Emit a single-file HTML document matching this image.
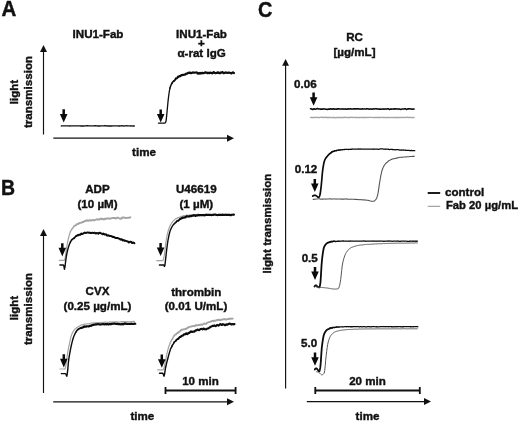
<!DOCTYPE html>
<html><head><meta charset="utf-8">
<style>
html,body{margin:0;padding:0;background:#fff;}
svg{display:block;will-change:transform;filter:grayscale(1);}
text{font-family:"Liberation Sans",sans-serif;font-weight:bold;fill:#111;}
.t{font-size:11.6px;stroke:#111;stroke-width:0.4px;}
.p{font-size:20.5px;stroke:#111;stroke-width:0.4px;}
.ax{stroke:#111;stroke-width:1.15;fill:none;}
.bk{stroke:#0c0c0c;stroke-width:1.7;fill:none;stroke-linejoin:round;stroke-linecap:round;}
.gy{stroke:#a4a4a4;stroke-width:1.6;fill:none;stroke-linejoin:round;stroke-linecap:round;}
.bk1{stroke:#111;stroke-width:1.4;fill:none;stroke-linejoin:round;}
.bkc{stroke:#0c0c0c;stroke-width:1.45;fill:none;stroke-linejoin:round;stroke-linecap:round;}
.gy1{stroke:#555;stroke-width:1.1;fill:none;stroke-linejoin:round;}
</style></head><body>
<svg width="520" height="421" viewBox="0 0 520 421">
<rect width="520" height="421" fill="#fff"/>

<text class="p" transform="translate(1.4,16.3) scale(1,1.05)">A</text>
<text class="p" transform="translate(1.0,195.3) scale(0.95,1.035)">B</text>
<text class="p" transform="translate(257.9,17.2) scale(0.97,1.065)">C</text>
<text class="t" x="98" y="38.3" text-anchor="middle">INU1-Fab</text>
<text class="t" x="201.5" y="37.8" text-anchor="middle">INU1-Fab</text>
<text class="t" x="201.5" y="46.9" text-anchor="middle">+</text>
<text class="t" x="201.6" y="57" text-anchor="middle">α-rat IgG</text>
<path class="ax" d="M43.5,134.5 V50"/><path d="M43.5,45 l-3.5,7 h7 z" fill="#111"/>
<path class="ax" d="M53.3,138.15 H228"/><path d="M234,138.2 l-7,-3.5 v7 z" fill="#111"/>
<text class="t" transform="translate(17.8,92) rotate(-90)" text-anchor="middle">light</text>
<text class="t" transform="translate(31.5,92) rotate(-90)" text-anchor="middle">transmission</text>
<text class="t" x="144" y="156" text-anchor="middle">time</text>
<path transform="translate(63.7,109.3)" d="M-1.25,0 h2.5 v4.6 h2.55 L0,13.2 L-3.8,4.6 h2.55 z" fill="#0a0a0a"/>
<path class="bk1" d="M60.80,125.96 L61.80,125.92 L62.80,125.90 L63.80,125.90 L64.80,125.88 L65.80,125.88 L66.80,125.86 L67.80,125.85 L68.80,125.92 L69.80,125.93 L70.80,125.88 L71.80,125.89 L72.80,125.91 L73.80,125.89 L74.80,125.86 L75.80,125.85 L76.80,125.90 L77.80,125.92 L78.80,125.88 L79.80,125.88 L80.80,125.94 L81.80,125.93 L82.80,125.93 L83.80,125.97 L84.80,125.91 L85.80,125.83 L86.80,125.81 L87.80,125.82 L88.80,125.89 L89.80,125.89 L90.80,125.88 L91.80,125.90 L92.80,125.87 L93.80,125.85 L94.80,125.81 L95.80,125.81 L96.80,125.87 L97.80,125.97 L98.80,125.99 L99.80,125.94 L100.80,125.92 L101.80,125.92 L102.80,125.90 L103.80,125.85 L104.80,125.78 L105.80,125.80 L106.80,125.92 L107.80,126.00 L108.80,125.95 L109.80,125.92 L110.80,125.97 L111.80,125.95 L112.80,125.91 L113.80,125.91 L114.80,125.89 L115.80,125.86 L116.80,125.85 L117.80,125.89 L118.80,125.93 L119.80,125.94 L120.80,125.87 L121.80,125.81 L122.80,125.89 L123.80,125.96 L124.80,125.90 L125.80,125.83 L126.80,125.81 L127.80,125.83 L128.80,125.84 L129.80,125.88 L130.80,125.93 L131.80,125.92 L132.80,125.93 L133.80,125.99 L134.80,125.99"/>
<path transform="translate(160.7,109.4)" d="M-1.25,0 h2.5 v4.6 h2.55 L0,13.2 L-3.8,4.6 h2.55 z" fill="#0a0a0a"/>
<path class="bk" style="stroke-width:1.3" d="M158.50,123.20 L159.00,123.20 L159.50,123.20 L160.00,123.20 L160.50,123.20 L161.00,123.20 L161.50,123.20 L162.00,123.20 L162.50,123.20 L163.00,123.20 L163.50,123.20 L164.00,123.20 L164.50,123.20 L165.00,123.00 L165.50,122.46 L166.00,121.32 L166.50,117.33 L167.00,111.98 L167.50,107.00 L168.00,101.67 L168.50,97.22 L169.00,93.49 L169.50,90.33 L170.00,87.99"/>
<path class="bk" style="stroke-width:1.48" d="M170.00,87.99 L170.50,86.38 L171.00,85.10 L171.50,84.16 L172.00,83.24"/>
<path class="bk" style="stroke-width:1.66" d="M172.00,83.24 L172.50,82.31 L173.00,81.69 L173.50,81.25 L174.00,80.88"/>
<path class="bk" style="stroke-width:1.84" d="M174.00,80.88 L174.50,80.49 L175.00,79.97 L175.50,79.07 L176.00,78.42"/>
<path class="bk" style="stroke-width:2.02" d="M176.00,78.42 L176.50,78.35 L177.00,78.24 L177.50,77.58 L178.00,76.84"/>
<path class="bk" style="stroke-width:2.2" d="M178.00,76.84 L178.50,76.68 L179.00,76.50 L179.50,76.03 L180.00,76.01 L180.50,76.15 L181.00,75.54 L181.50,75.07 L182.00,75.19 L182.50,75.04 L183.00,74.86 L183.50,74.90 L184.00,74.78 L184.50,74.67 L185.00,74.63 L185.50,74.25 L186.00,73.79 L186.50,73.61 L187.00,73.62 L187.50,73.53 L188.00,73.03 L188.50,72.81 L189.00,72.99 L189.50,72.68 L190.00,72.56 L190.50,72.97 L191.00,73.14 L191.50,73.14 L192.00,72.88 L192.50,72.48 L193.00,72.44 L193.50,72.68 L194.00,72.77 L194.50,72.70 L195.00,72.58 L195.50,72.50 L196.00,72.49 L196.50,72.41 L197.00,72.76 L197.50,73.36 L198.00,73.71 L198.50,73.44 L199.00,72.86 L199.50,73.14 L200.00,73.61 L200.50,73.30 L201.00,72.86 L201.50,73.21 L202.00,73.35 L202.50,72.81 L203.00,73.01 L203.50,73.23 L204.00,72.96 L204.50,72.81 L205.00,72.52 L205.50,72.33 L206.00,72.53 L206.50,72.81 L207.00,73.04 L207.50,73.03 L208.00,72.71 L208.50,72.84 L209.00,73.25 L209.50,72.99 L210.00,72.64 L210.50,72.79 L211.00,72.88 L211.50,72.96 L212.00,73.21 L212.50,73.31 L213.00,72.79 L213.50,72.06 L214.00,72.23 L214.50,72.82 L215.00,73.06 L215.50,73.21 L216.00,72.99 L216.50,72.82 L217.00,72.93 L217.50,72.42 L218.00,72.38 L218.50,72.86 L219.00,72.65 L219.50,72.88 L220.00,73.25 L220.50,72.75 L221.00,72.47 L221.50,72.65 L222.00,72.31 L222.50,72.10 L223.00,72.61 L223.50,73.06 L224.00,73.17 L224.50,73.05 L225.00,72.77 L225.50,72.50 L226.00,72.37 L226.50,72.62 L227.00,72.90 L227.50,72.88 L228.00,72.82 L228.50,72.60 L229.00,72.53 L229.50,72.69 L230.00,72.84 L230.50,72.99 L231.00,73.23 L231.50,73.35 L232.00,72.97 L232.50,72.53 L233.00,72.43 L233.50,72.75 L234.00,73.02"/>
<text class="t" x="97.5" y="193.1" text-anchor="middle">ADP</text>
<text class="t" x="97.5" y="207.7" text-anchor="middle">(10 µM)</text>
<text class="t" x="196.3" y="193.2" text-anchor="middle">U46619</text>
<text class="t" x="196.3" y="207.7" text-anchor="middle">(1 µM)</text>
<text class="t" x="97.5" y="295.3" text-anchor="middle">CVX</text>
<text class="t" x="97.5" y="309.8" text-anchor="middle">(0.25 µg/mL)</text>
<text class="t" x="196.3" y="295.5" text-anchor="middle">thrombin</text>
<text class="t" x="196" y="309.8" text-anchor="middle">(0.01 U/mL)</text>
<path class="ax" d="M43.5,393 V234"/><path d="M43.5,229 l-3.5,7 h7 z" fill="#111"/>
<path class="ax" d="M53.2,401.8 H228"/><path d="M234,401.8 l-7,-3.5 v7 z" fill="#111"/>
<text class="t" transform="translate(17.8,308) rotate(-90)" text-anchor="middle">light</text>
<text class="t" transform="translate(31.5,309) rotate(-90)" text-anchor="middle">transmission</text>
<text class="t" x="142.4" y="419.7" text-anchor="middle">time</text>
<path d="M165.3,390.4 H235.7" stroke="#111" stroke-width="2" fill="none"/>
<path d="M165.5,387 V394 M235.6,387 V394" stroke="#111" stroke-width="1.8" fill="none"/>
<text class="t" x="200.5" y="384.5" text-anchor="middle">10 min</text>
<path class="gy" style="stroke-width:1.2" d="M59.40,260.40 L59.90,260.40 L60.40,260.40 L60.90,260.40 L61.40,260.40 L61.90,260.40 L62.40,260.40 L62.90,260.40 L63.40,260.40 L63.90,260.40 L64.40,260.40 L64.90,259.24 L65.40,256.41 L65.90,252.62 L66.40,249.11 L66.90,246.00 L67.40,243.14 L67.90,240.64 L68.40,238.49 L68.90,236.50 L69.40,234.66 L69.90,233.00 L70.40,231.66"/>
<path class="gy" style="stroke-width:1.34" d="M70.40,231.66 L70.90,230.70 L71.40,229.84 L71.90,229.06 L72.40,228.38"/>
<path class="gy" style="stroke-width:1.48" d="M72.40,228.38 L72.90,227.79 L73.40,227.20 L73.90,226.38 L74.40,225.73"/>
<path class="gy" style="stroke-width:1.62" d="M74.40,225.73 L74.90,225.57 L75.40,225.56 L75.90,225.39 L76.40,224.73"/>
<path class="gy" style="stroke-width:1.76" d="M76.40,224.73 L76.90,224.03 L77.40,224.09 L77.90,224.18 L78.40,223.67"/>
<path class="gy" style="stroke-width:1.9" d="M78.40,223.67 L78.90,223.24 L79.40,223.07 L79.90,222.91 L80.40,222.83 L80.90,222.81 L81.40,222.79 L81.90,222.44 L82.40,222.04 L82.90,222.11 L83.40,222.02 L83.90,221.58 L84.40,221.07 L84.90,220.90 L85.40,221.14 L85.90,220.87 L86.40,220.25 L86.90,220.23 L87.40,220.66 L87.90,220.89 L88.40,220.78 L88.90,220.54 L89.40,220.12 L89.90,220.06 L90.40,220.44 L90.90,220.48 L91.40,220.40 L91.90,220.31 L92.40,219.93 L92.90,219.90 L93.40,220.35 L93.90,220.44 L94.40,220.24 L94.90,220.10 L95.40,219.81 L95.90,219.65 L96.40,219.42 L96.90,219.19 L97.40,219.49 L97.90,219.70 L98.40,219.48 L98.90,219.50 L99.40,219.49 L99.90,218.96 L100.40,218.64 L100.90,218.70 L101.40,218.93 L101.90,219.30 L102.40,219.18 L102.90,218.76 L103.40,219.05 L103.90,219.45 L104.40,218.98 L104.90,218.61 L105.40,218.85 L105.90,218.97 L106.40,218.74 L106.90,218.35 L107.40,218.33 L107.90,218.61 L108.40,218.44 L108.90,218.29 L109.40,218.70 L109.90,218.79 L110.40,218.47 L110.90,218.38 L111.40,218.36 L111.90,218.10 L112.40,218.01 L112.90,218.10 L113.40,218.07 L113.90,218.06 L114.40,217.98 L114.90,218.06 L115.40,218.43 L115.90,218.52 L116.40,218.01 L116.90,217.66 L117.40,217.73 L117.90,217.75 L118.40,217.93 L118.90,218.26 L119.40,218.55 L119.90,218.51 L120.40,218.43 L120.90,218.85 L121.40,218.82 L121.90,217.95 L122.40,217.44 L122.90,217.72 L123.40,217.72 L123.90,217.44 L124.40,217.68 L124.90,217.81 L125.40,217.80 L125.90,218.10 L126.40,218.16 L126.90,217.92 L127.40,217.80 L127.90,217.64 L128.40,217.59 L128.90,217.83 L129.40,217.89 L129.90,217.48 L130.40,217.20"/>
<path class="bk" style="stroke-width:1.4" d="M59.90,265.00 L60.40,265.00 L60.90,265.00 L61.40,265.00 L61.90,265.00 L62.40,265.00 L62.90,265.00 L63.40,265.00 L63.90,266.14 L64.40,269.25 L64.90,267.41 L65.40,263.27 L65.90,259.36 L66.40,256.13 L66.90,253.44 L67.40,251.07 L67.90,249.06 L68.40,247.33 L68.90,245.74 L69.40,244.31 L69.90,243.11 L70.40,242.12"/>
<path class="bk" style="stroke-width:1.52" d="M70.40,242.12 L70.90,241.18 L71.40,240.29 L71.90,239.64 L72.40,239.31"/>
<path class="bk" style="stroke-width:1.64" d="M72.40,239.31 L72.90,238.90 L73.40,238.55 L73.90,238.43 L74.40,237.90"/>
<path class="bk" style="stroke-width:1.76" d="M74.40,237.90 L74.90,237.28 L75.40,236.71 L75.90,236.15 L76.40,236.01"/>
<path class="bk" style="stroke-width:1.88" d="M76.40,236.01 L76.90,235.66 L77.40,235.27 L77.90,235.31 L78.40,235.12"/>
<path class="bk" style="stroke-width:2.0" d="M78.40,235.12 L78.90,234.85 L79.40,234.74 L79.90,234.86 L80.40,234.69 L80.90,233.91 L81.40,233.50 L81.90,233.81 L82.40,234.00 L82.90,233.66 L83.40,233.48 L83.90,233.20 L84.40,232.65 L84.90,232.60 L85.40,232.84 L85.90,233.00 L86.40,232.82 L86.90,232.62 L87.40,232.57 L87.90,232.52 L88.40,232.64 L88.90,232.67 L89.40,232.59 L89.90,232.75 L90.40,233.00 L90.90,233.01 L91.40,233.03 L91.90,232.91 L92.40,232.73 L92.90,232.90 L93.40,233.02 L93.90,232.89 L94.40,232.70 L94.90,232.79 L95.40,233.36 L95.90,233.54 L96.40,233.14 L96.90,233.03 L97.40,233.19 L97.90,233.40 L98.40,233.62 L98.90,233.27 L99.40,232.66 L99.90,232.74 L100.40,233.14 L100.90,233.33 L101.40,233.39 L101.90,233.61 L102.40,234.27 L102.90,234.25 L103.40,233.57 L103.90,233.82 L104.40,234.44 L104.90,234.52 L105.40,234.37 L105.90,234.24 L106.40,234.59 L106.90,235.30 L107.40,235.64 L107.90,235.43 L108.40,235.30 L108.90,235.53 L109.40,235.81 L109.90,236.06 L110.40,236.09 L110.90,236.08 L111.40,236.15 L111.90,236.31 L112.40,236.88 L112.90,237.08 L113.40,236.85 L113.90,236.92 L114.40,237.19 L114.90,237.71 L115.40,237.95 L115.90,237.94 L116.40,238.09 L116.90,237.99 L117.40,237.90 L117.90,238.11 L118.40,238.38 L118.90,238.62 L119.40,238.78 L119.90,238.98 L120.40,239.46 L120.90,239.68 L121.40,239.34 L121.90,239.33 L122.40,240.04 L122.90,240.44 L123.40,240.15 L123.90,240.05 L124.40,240.67 L124.90,240.94 L125.40,240.66 L125.90,240.90 L126.40,241.09 L126.90,241.18 L127.40,241.39 L127.90,241.45 L128.40,241.93 L128.90,242.43 L129.40,242.25 L129.90,241.82 L130.40,241.63 L130.90,241.70 L131.40,242.24 L131.90,243.00 L132.40,242.99 L132.90,242.60 L133.40,242.58 L133.90,242.84 L134.40,243.26"/>
<path transform="translate(62.3,243.2)" d="M-1.25,0 h2.5 v4.6 h2.55 L0,13.2 L-3.8,4.6 h2.55 z" fill="#0a0a0a"/>
<path class="gy" style="stroke-width:1.2" d="M156.80,260.70 L157.30,260.70 L157.80,260.70 L158.30,260.70 L158.80,260.70 L159.30,260.70 L159.80,260.70 L160.30,260.70 L160.80,260.70 L161.30,260.70 L161.80,260.70 L162.30,260.70 L162.80,260.70 L163.30,259.82 L163.80,258.00 L164.30,255.24 L164.80,251.67 L165.30,247.33 L165.80,243.01 L166.30,239.62 L166.80,236.89 L167.30,234.44 L167.80,232.31 L168.30,230.52 L168.80,229.04 L169.30,227.70 L169.80,226.47 L170.30,225.36 L170.80,224.36 L171.30,223.49 L171.80,222.73 L172.30,222.06 L172.80,221.47 L173.30,220.90 L173.80,220.41 L174.30,220.09 L174.80,219.64 L175.30,219.04 L175.80,218.70 L176.30,218.64 L176.80,218.42 L177.30,218.02 L177.80,217.66 L178.30,217.53 L178.80,217.58 L179.30,217.37 L179.80,217.07 L180.30,216.89 L180.80,216.70 L181.30,216.44 L181.80,216.21 L182.30,216.10 L182.80,216.02 L183.30,215.89 L183.80,215.63 L184.30,215.51 L184.80,215.63 L185.30,215.63 L185.80,215.40 L186.30,215.20 L186.80,215.12 L187.30,215.19 L187.80,215.33 L188.30,215.31 L188.80,215.18 L189.30,214.98 L189.80,214.87 L190.30,215.00 L190.80,215.06 L191.30,214.88 L191.80,214.78 L192.30,214.76 L192.80,214.70 L193.30,214.64 L193.80,214.51 L194.30,214.47 L194.80,214.63 L195.30,214.79 L195.80,214.83 L196.30,214.68 L196.80,214.52 L197.30,214.35 L197.80,214.20 L198.30,214.30 L198.80,214.48 L199.30,214.55 L199.80,214.75 L200.30,214.82 L200.80,214.75 L201.30,214.80 L201.80,214.79 L202.30,214.74 L202.80,214.70 L203.30,214.64 L203.80,214.58 L204.30,214.59 L204.80,214.57 L205.30,214.59 L205.80,214.68 L206.30,214.65 L206.80,214.65 L207.30,214.73 L207.80,214.66 L208.30,214.52 L208.80,214.62 L209.30,214.67 L209.80,214.57 L210.30,214.52 L210.80,214.55 L211.30,214.68 L211.80,214.65 L212.30,214.65 L212.80,214.73 L213.30,214.69 L213.80,214.60 L214.30,214.48 L214.80,214.39 L215.30,214.39 L215.80,214.55 L216.30,214.72 L216.80,214.74 L217.30,214.66 L217.80,214.48 L218.30,214.40 L218.80,214.53 L219.30,214.66 L219.80,214.68 L220.30,214.66 L220.80,214.66 L221.30,214.62 L221.80,214.67 L222.30,214.72 L222.80,214.62 L223.30,214.68 L223.80,214.81 L224.30,214.75 L224.80,214.65 L225.30,214.69 L225.80,214.66 L226.30,214.38 L226.80,214.27 L227.30,214.50 L227.80,214.75 L228.30,214.72 L228.80,214.51 L229.30,214.45 L229.80,214.57 L230.30,214.59 L230.80,214.43 L231.30,214.31 L231.80,214.39 L232.30,214.58 L232.80,214.65 L233.30,214.62 L233.80,214.59"/>
<path class="bk" style="stroke-width:1.4" d="M159.40,265.00 L159.90,265.00 L160.40,265.00 L160.90,265.00 L161.40,265.00 L161.90,265.00 L162.40,265.00 L162.90,265.00 L163.40,265.00 L163.90,265.20 L164.40,266.40 L164.90,265.38 L165.40,261.00 L165.90,256.57 L166.40,252.23 L166.90,248.04 L167.40,244.10 L167.90,240.76 L168.40,238.09 L168.90,235.65 L169.40,233.48 L169.90,231.62 L170.40,230.13 L170.90,228.97 L171.40,227.93 L171.90,226.99 L172.40,226.22 L172.90,225.43 L173.40,224.65 L173.90,224.13 L174.40,223.62"/>
<path class="bk" style="stroke-width:1.56" d="M174.40,223.62 L174.90,223.09 L175.40,222.71 L175.90,222.29 L176.40,221.79"/>
<path class="bk" style="stroke-width:1.72" d="M176.40,221.79 L176.90,221.14 L177.40,220.72 L177.90,220.74 L178.40,220.60"/>
<path class="bk" style="stroke-width:1.88" d="M178.40,220.60 L178.90,220.13 L179.40,219.65 L179.90,219.11 L180.40,218.71"/>
<path class="bk" style="stroke-width:2.04" d="M180.40,218.71 L180.90,218.74 L181.40,218.62 L181.90,218.13 L182.40,217.77"/>
<path class="bk" style="stroke-width:2.2" d="M182.40,217.77 L182.90,217.63 L183.40,217.72 L183.90,217.67 L184.40,217.30 L184.90,217.25 L185.40,217.33 L185.90,217.01 L186.40,216.58 L186.90,216.30 L187.40,216.29 L187.90,216.45 L188.40,216.48 L188.90,216.54 L189.40,216.45 L189.90,216.13 L190.40,216.06 L190.90,216.16 L191.40,216.10 L191.90,215.84 L192.40,215.68 L192.90,215.73 L193.40,215.48 L193.90,215.18 L194.40,215.36 L194.90,215.74 L195.40,215.84 L195.90,215.45 L196.40,215.33 L196.90,215.60 L197.40,215.49 L197.90,215.16 L198.40,214.96 L198.90,215.08 L199.40,215.31 L199.90,215.18 L200.40,214.98 L200.90,215.11 L201.40,215.26 L201.90,215.17 L202.40,215.15 L202.90,215.17 L203.40,215.04 L203.90,214.97 L204.40,215.19 L204.90,215.32 L205.40,215.05 L205.90,214.74 L206.40,214.72 L206.90,214.88 L207.40,214.93 L207.90,214.92 L208.40,214.83 L208.90,214.77 L209.40,214.96 L209.90,215.03 L210.40,214.95 L210.90,215.03 L211.40,215.09 L211.90,214.93 L212.40,214.87 L212.90,214.99 L213.40,214.87 L213.90,214.63 L214.40,214.59 L214.90,214.69 L215.40,214.69 L215.90,214.77 L216.40,214.93 L216.90,215.02 L217.40,215.09 L217.90,215.00 L218.40,214.83 L218.90,214.77 L219.40,214.84 L219.90,214.96 L220.40,214.92 L220.90,214.90 L221.40,215.01 L221.90,214.95 L222.40,214.71 L222.90,214.66 L223.40,214.87 L223.90,214.98 L224.40,214.89 L224.90,214.77 L225.40,214.71 L225.90,214.82 L226.40,214.91 L226.90,214.89 L227.40,214.83 L227.90,214.84 L228.40,214.94 L228.90,214.90 L229.40,214.86 L229.90,215.02 L230.40,215.15 L230.90,215.08 L231.40,214.93 L231.90,214.77 L232.40,214.76 L232.90,214.76 L233.40,214.59 L233.90,214.67"/>
<path transform="translate(160.6,242.9)" d="M-1.25,0 h2.5 v4.6 h2.55 L0,13.2 L-3.8,4.6 h2.55 z" fill="#0a0a0a"/>
<path class="gy" style="stroke-width:1.2" d="M60.00,369.00 L60.50,369.00 L61.00,369.00 L61.50,369.00 L62.00,369.00 L62.50,369.00 L63.00,369.00 L63.50,369.00 L64.00,369.00 L64.50,369.00 L65.00,369.00 L65.50,367.45 L66.00,364.05 L66.50,360.68 L67.00,357.32 L67.50,353.88 L68.00,350.85 L68.50,348.14 L69.00,345.63 L69.50,343.26 L70.00,340.86 L70.50,338.57 L71.00,336.56 L71.50,335.00 L72.00,333.80 L72.50,332.75 L73.00,331.83 L73.50,331.05 L74.00,330.33 L74.50,329.71 L75.00,329.11 L75.50,328.54 L76.00,328.16 L76.50,327.84 L77.00,327.61 L77.50,327.40 L78.00,326.96 L78.50,326.52 L79.00,326.29 L79.50,326.12 L80.00,325.83 L80.50,325.39 L81.00,325.03 L81.50,324.91 L82.00,324.97 L82.50,324.86 L83.00,324.60 L83.50,324.43 L84.00,324.31 L84.50,324.21 L85.00,324.14 L85.50,324.17 L86.00,324.23 L86.50,324.05 L87.00,323.77 L87.50,323.75 L88.00,323.85 L88.50,323.78 L89.00,323.67 L89.50,323.69 L90.00,323.58 L90.50,323.25 L91.00,323.01 L91.50,323.00 L92.00,323.09 L92.50,323.05 L93.00,322.90 L93.50,322.91 L94.00,322.98 L94.50,322.90 L95.00,322.87 L95.50,322.88 L96.00,322.66 L96.50,322.69 L97.00,322.93 L97.50,322.76 L98.00,322.52 L98.50,322.49 L99.00,322.57 L99.50,322.69 L100.00,322.70 L100.50,322.59 L101.00,322.38 L101.50,322.27 L102.00,322.46 L102.50,322.66 L103.00,322.58 L103.50,322.44 L104.00,322.39 L104.50,322.30 L105.00,322.18 L105.50,322.09 L106.00,322.14 L106.50,322.21 L107.00,322.24 L107.50,322.38 L108.00,322.52 L108.50,322.40 L109.00,322.13 L109.50,321.97 L110.00,321.92 L110.50,321.93 L111.00,322.04 L111.50,322.11 L112.00,322.09 L112.50,322.06 L113.00,322.02 L113.50,321.93 L114.00,321.97 L114.50,322.18 L115.00,322.11 L115.50,321.82 L116.00,321.71 L116.50,321.77 L117.00,321.92 L117.50,322.07 L118.00,322.11 L118.50,322.08 L119.00,322.08 L119.50,322.04 L120.00,321.97 L120.50,321.86 L121.00,321.67 L121.50,321.52 L122.00,321.72 L122.50,321.90 L123.00,321.71 L123.50,321.65 L124.00,321.77 L124.50,321.71 L125.00,321.70 L125.50,321.84 L126.00,321.85 L126.50,321.72 L127.00,321.62 L127.50,321.65 L128.00,321.72 L128.50,321.77 L129.00,321.83 L129.50,321.78 L130.00,321.69 L130.50,321.58 L131.00,321.49 L131.50,321.59 L132.00,321.63 L132.50,321.47 L133.00,321.40 L133.50,321.39 L134.00,321.38 L134.50,321.47"/>
<path class="bk" style="stroke-width:1.4" d="M61.30,373.60 L61.80,373.60 L62.30,373.60 L62.80,373.60 L63.30,373.60 L63.80,373.60 L64.30,373.60 L64.80,373.60 L65.30,373.60 L65.80,373.80 L66.30,375.28 L66.80,376.30 L67.30,373.63 L67.80,369.07 L68.30,363.22 L68.80,359.05 L69.30,355.87 L69.80,353.09 L70.30,350.39 L70.80,347.84 L71.30,345.49 L71.80,343.37 L72.30,341.34 L72.80,339.45 L73.30,337.82 L73.80,336.50 L74.30,335.27 L74.80,334.16 L75.30,333.15 L75.80,332.28 L76.30,331.51"/>
<path class="bk" style="stroke-width:1.56" d="M76.30,331.51 L76.80,330.66 L77.30,330.10 L77.80,329.74 L78.30,329.25"/>
<path class="bk" style="stroke-width:1.72" d="M78.30,329.25 L78.80,328.90 L79.30,328.75 L79.80,328.46 L80.30,328.08"/>
<path class="bk" style="stroke-width:1.88" d="M80.30,328.08 L80.80,327.97 L81.30,328.05 L81.80,327.79 L82.30,327.41"/>
<path class="bk" style="stroke-width:2.04" d="M82.30,327.41 L82.80,327.47 L83.30,327.35 L83.80,326.82 L84.30,326.62"/>
<path class="bk" style="stroke-width:2.2" d="M84.30,326.62 L84.80,326.69 L85.30,326.63 L85.80,326.59 L86.30,326.54 L86.80,326.33 L87.30,326.23 L87.80,326.25 L88.30,326.30 L88.80,326.36 L89.30,326.19 L89.80,325.81 L90.30,325.72 L90.80,325.85 L91.30,325.67 L91.80,325.28 L92.30,325.07 L92.80,325.04 L93.30,324.89 L93.80,324.67 L94.30,324.56 L94.80,324.61 L95.30,324.59 L95.80,324.39 L96.30,324.40 L96.80,324.45 L97.30,324.29 L97.80,324.20 L98.30,324.20 L98.80,324.27 L99.30,324.39 L99.80,324.41 L100.30,324.55 L100.80,324.52 L101.30,324.27 L101.80,324.24 L102.30,324.18 L102.80,324.08 L103.30,324.14 L103.80,324.28 L104.30,324.44 L104.80,324.38 L105.30,324.11 L105.80,324.11 L106.30,324.35 L106.80,324.22 L107.30,323.98 L107.80,324.16 L108.30,324.35 L108.80,324.34 L109.30,324.12 L109.80,323.95 L110.30,324.14 L110.80,324.29 L111.30,324.00 L111.80,323.76 L112.30,323.86 L112.80,323.78 L113.30,323.67 L113.80,323.63 L114.30,323.54 L114.80,323.60 L115.30,323.71 L115.80,323.82 L116.30,323.91 L116.80,323.81 L117.30,323.70 L117.80,323.90 L118.30,324.18 L118.80,324.19 L119.30,324.09 L119.80,324.12 L120.30,324.23 L120.80,324.35 L121.30,324.27 L121.80,323.97 L122.30,323.95 L122.80,324.23 L123.30,324.38 L123.80,324.06 L124.30,323.60 L124.80,323.39 L125.30,323.38 L125.80,323.72 L126.30,323.92 L126.80,323.85 L127.30,323.93 L127.80,324.01 L128.30,323.97 L128.80,324.01 L129.30,324.02 L129.80,323.96 L130.30,323.93 L130.80,323.78 L131.30,323.70 L131.80,323.89 L132.30,323.97 L132.80,323.90 L133.30,323.98 L133.80,323.90 L134.30,323.66 L134.80,323.64 L135.30,323.72"/>
<path transform="translate(63.8,354.2)" d="M-1.25,0 h2.5 v4.6 h2.55 L0,13.2 L-3.8,4.6 h2.55 z" fill="#0a0a0a"/>
<path class="gy" style="stroke-width:1.2" d="M157.70,369.80 L158.20,369.80 L158.70,369.80 L159.20,369.80 L159.70,369.80 L160.20,369.80 L160.70,369.80 L161.20,369.80 L161.70,369.80 L162.20,369.80 L162.70,369.80 L163.20,369.70 L163.70,368.70 L164.20,367.07 L164.70,365.15 L165.20,362.36 L165.70,359.83 L166.20,357.36 L166.70,354.93 L167.20,352.61 L167.70,350.47 L168.20,348.60 L168.70,347.01 L169.20,345.54 L169.70,344.20 L170.20,343.03"/>
<path class="gy" style="stroke-width:1.34" d="M170.20,343.03 L170.70,341.92 L171.20,340.85 L171.70,339.90 L172.20,339.23"/>
<path class="gy" style="stroke-width:1.48" d="M172.20,339.23 L172.70,338.43 L173.20,337.21 L173.70,336.23 L174.20,335.69"/>
<path class="gy" style="stroke-width:1.62" d="M174.20,335.69 L174.70,335.15 L175.20,334.72 L175.70,334.56 L176.20,334.20"/>
<path class="gy" style="stroke-width:1.76" d="M176.20,334.20 L176.70,333.55 L177.20,333.09 L177.70,332.84 L178.20,332.59"/>
<path class="gy" style="stroke-width:1.9" d="M178.20,332.59 L178.70,332.15 L179.20,331.73 L179.70,331.36 L180.20,331.03 L180.70,330.61 L181.20,329.91 L181.70,329.64 L182.20,329.78 L182.70,329.66 L183.20,329.51 L183.70,329.40 L184.20,329.19 L184.70,329.24 L185.20,329.03 L185.70,328.59 L186.20,328.65 L186.70,328.77 L187.20,328.10 L187.70,327.43 L188.20,327.58 L188.70,327.37 L189.20,326.93 L189.70,326.89 L190.20,326.71 L190.70,326.67 L191.20,326.60 L191.70,326.41 L192.20,326.28 L192.70,326.06 L193.20,325.94 L193.70,325.83 L194.20,325.97 L194.70,326.19 L195.20,325.76 L195.70,325.28 L196.20,325.19 L196.70,325.15 L197.20,325.19 L197.70,325.21 L198.20,325.12 L198.70,324.95 L199.20,324.82 L199.70,324.97 L200.20,324.94 L200.70,324.59 L201.20,324.44 L201.70,324.58 L202.20,324.78 L202.70,324.58 L203.20,324.14 L203.70,323.85 L204.20,323.54 L204.70,323.50 L205.20,323.77 L205.70,323.95 L206.20,323.80 L206.70,323.20 L207.20,322.73 L207.70,322.65 L208.20,322.47 L208.70,322.21 L209.20,322.01 L209.70,321.90 L210.20,321.83 L210.70,321.57 L211.20,321.32 L211.70,321.20 L212.20,320.96 L212.70,321.02 L213.20,321.23 L213.70,320.79 L214.20,320.46 L214.70,320.77 L215.20,320.89 L215.70,320.67 L216.20,320.40 L216.70,320.18 L217.20,319.94 L217.70,319.96 L218.20,320.15 L218.70,319.89 L219.20,319.59 L219.70,319.81 L220.20,320.20 L220.70,320.04 L221.20,319.61 L221.70,319.56 L222.20,319.73 L222.70,319.54 L223.20,319.24 L223.70,319.37 L224.20,319.30 L224.70,319.05 L225.20,319.16 L225.70,319.56 L226.20,319.70 L226.70,319.45 L227.20,319.16 L227.70,319.00 L228.20,319.16 L228.70,319.09 L229.20,318.67 L229.70,318.76 L230.20,318.87 L230.70,318.56 L231.20,318.69 L231.70,318.81 L232.20,318.52 L232.70,318.60"/>
<path class="bk" style="stroke-width:1.4" d="M159.50,373.20 L160.00,373.20 L160.50,373.20 L161.00,373.20 L161.50,373.20 L162.00,373.20 L162.50,373.20 L163.00,373.42 L163.50,375.07 L164.00,376.20 L164.50,374.60 L165.00,371.18 L165.50,368.00 L166.00,365.74 L166.50,363.66 L167.00,361.69 L167.50,359.73 L168.00,357.75 L168.50,355.80 L169.00,353.99 L169.50,352.34 L170.00,350.77 L170.50,349.13 L171.00,347.97 L171.50,347.28 L172.00,346.12"/>
<path class="bk" style="stroke-width:1.54" d="M172.00,346.12 L172.50,344.94 L173.00,344.35 L173.50,343.54 L174.00,342.51"/>
<path class="bk" style="stroke-width:1.68" d="M174.00,342.51 L174.50,341.88 L175.00,341.46 L175.50,341.07 L176.00,340.60"/>
<path class="bk" style="stroke-width:1.82" d="M176.00,340.60 L176.50,339.88 L177.00,339.40 L177.50,339.23 L178.00,339.00"/>
<path class="bk" style="stroke-width:1.96" d="M178.00,339.00 L178.50,338.60 L179.00,337.95 L179.50,337.27 L180.00,337.04"/>
<path class="bk" style="stroke-width:2.1" d="M180.00,337.04 L180.50,336.93 L181.00,336.38 L181.50,335.95 L182.00,335.77 L182.50,335.78 L183.00,335.45 L183.50,334.72 L184.00,334.29 L184.50,334.28 L185.00,334.50 L185.50,333.99 L186.00,333.24 L186.50,333.43 L187.00,334.02 L187.50,334.15 L188.00,333.57 L188.50,332.78 L189.00,332.74 L189.50,332.85 L190.00,332.25 L190.50,331.73 L191.00,331.39 L191.50,331.44 L192.00,331.91 L192.50,331.93 L193.00,331.65 L193.50,331.59 L194.00,331.68 L194.50,331.52 L195.00,330.92 L195.50,330.32 L196.00,330.24 L196.50,330.42 L197.00,329.96 L197.50,329.46 L198.00,329.63 L198.50,329.93 L199.00,330.16 L199.50,329.97 L200.00,329.34 L200.50,329.04 L201.00,328.97 L201.50,328.88 L202.00,329.14 L202.50,329.39 L203.00,329.06 L203.50,328.50 L204.00,328.75 L204.50,329.22 L205.00,329.14 L205.50,329.30 L206.00,329.36 L206.50,328.90 L207.00,328.67 L207.50,328.68 L208.00,328.43 L208.50,328.25 L209.00,328.00 L209.50,327.53 L210.00,327.24 L210.50,326.91 L211.00,326.58 L211.50,326.53 L212.00,326.19 L212.50,325.82 L213.00,325.96 L213.50,326.02 L214.00,325.55 L214.50,325.35 L215.00,325.88 L215.50,326.17 L216.00,325.97 L216.50,325.50 L217.00,325.06 L217.50,324.98 L218.00,325.27 L218.50,325.58 L219.00,325.32 L219.50,324.84 L220.00,324.31 L220.50,324.11 L221.00,324.50 L221.50,324.91 L222.00,324.96 L222.50,324.45 L223.00,324.15 L223.50,324.38 L224.00,324.55 L224.50,325.03 L225.00,325.30 L225.50,324.99 L226.00,324.48 L226.50,324.36 L227.00,324.82 L227.50,324.77 L228.00,324.31 L228.50,323.94 L229.00,323.69 L229.50,323.58 L230.00,323.72 L230.50,323.96 L231.00,324.24 L231.50,324.47 L232.00,324.30 L232.50,324.03 L233.00,324.22 L233.50,324.39 L234.00,324.14 L234.50,324.09"/>
<path transform="translate(161.8,354.6)" d="M-1.25,0 h2.5 v4.6 h2.55 L0,13.2 L-3.8,4.6 h2.55 z" fill="#0a0a0a"/>
<text class="t" x="354.5" y="41.2" text-anchor="middle">RC</text>
<text class="t" x="354.5" y="55.8" text-anchor="middle">[µg/mL]</text>
<path class="ax" d="M285.6,388.5 V64"/><path d="M285.6,59 l-3.4,6.8 h6.8 z" fill="#111"/>
<path class="ax" d="M306.8,401.6 H425"/><path d="M431,401.5 l-7,-3.5 v7 z" fill="#111"/>
<text class="t" transform="translate(270.6,223.6) rotate(-90)" text-anchor="middle">light transmission</text>
<text class="t" x="367.5" y="419.7" text-anchor="middle">time</text>
<path d="M314.8,390.6 H419.8" stroke="#111" stroke-width="2" fill="none"/>
<path d="M315.3,387 V394 M419.8,387 V394" stroke="#111" stroke-width="1.8" fill="none"/>
<text class="t" x="367.5" y="384.6" text-anchor="middle">20 min</text>
<text class="t" x="316.6" y="87.7" text-anchor="end">0.06</text>
<path transform="translate(313.6,92.6)" d="M-1.25,0 h2.5 v4.6 h2.55 L0,13.2 L-3.8,4.6 h2.55 z" fill="#0a0a0a"/>
<path class="bkc" style="stroke-width:1.6" d="M310.50,108.71 L311.00,108.80 L311.50,108.99 L312.00,109.19 L312.50,109.51 L313.00,109.40 L313.50,108.91 L314.00,108.77 L314.50,109.02 L315.00,109.27 L315.50,109.26 L316.00,109.02 L316.50,108.80 L317.00,108.65 L317.50,108.54 L318.00,108.68 L318.50,109.01 L319.00,109.04 L319.50,108.90 L320.00,109.03 L320.50,109.21 L321.00,109.10 L321.50,109.01 L322.00,109.09 L322.50,109.11 L323.00,109.01 L323.50,108.92 L324.00,108.92 L324.50,108.95 L325.00,109.02 L325.50,109.18 L326.00,109.25 L326.50,109.31 L327.00,109.40 L327.50,109.40 L328.00,109.29 L328.50,109.12 L329.00,109.14 L329.50,109.23 L330.00,109.02 L330.50,108.83 L331.00,108.87 L331.50,109.00 L332.00,109.13 L332.50,109.14 L333.00,108.93 L333.50,108.80 L334.00,108.99 L334.50,109.14 L335.00,109.06 L335.50,109.02 L336.00,109.15 L336.50,109.20 L337.00,108.99 L337.50,108.79 L338.00,108.84 L338.50,108.84 L339.00,108.82 L339.50,108.94 L340.00,108.99 L340.50,109.03 L341.00,109.04 L341.50,109.07 L342.00,109.14 L342.50,108.99 L343.00,108.90 L343.50,109.05 L344.00,109.12 L344.50,108.99 L345.00,108.92 L345.50,109.06 L346.00,109.24 L346.50,109.27 L347.00,109.11 L347.50,108.98 L348.00,108.86 L348.50,108.79 L349.00,108.97 L349.50,109.05 L350.00,108.89 L350.50,108.79 L351.00,108.90 L351.50,109.05 L352.00,109.04 L352.50,108.98 L353.00,108.94 L353.50,108.92 L354.00,108.79 L354.50,108.69 L355.00,108.90 L355.50,108.94 L356.00,108.77 L356.50,108.83 L357.00,108.87 L357.50,108.83 L358.00,108.79 L358.50,108.77 L359.00,108.98 L359.50,109.08 L360.00,108.92 L360.50,109.00 L361.00,109.17 L361.50,109.07 L362.00,108.89 L362.50,108.87 L363.00,108.96 L363.50,109.03 L364.00,108.98 L364.50,108.92 L365.00,109.01 L365.50,109.05 L366.00,109.01 L366.50,108.87 L367.00,108.77 L367.50,108.80 L368.00,108.83 L368.50,108.94 L369.00,109.12 L369.50,109.18 L370.00,109.06 L370.50,108.92 L371.00,108.95 L371.50,109.11 L372.00,109.15 L372.50,109.02 L373.00,108.92 L373.50,108.91 L374.00,109.04 L374.50,108.95 L375.00,108.72 L375.50,108.82 L376.00,108.81 L376.50,108.71 L377.00,108.89 L377.50,109.03 L378.00,108.96 L378.50,108.99 L379.00,109.18 L379.50,109.12 L380.00,109.06 L380.50,109.20 L381.00,109.22 L381.50,109.21 L382.00,109.07 L382.50,108.92 L383.00,109.06 L383.50,109.08 L384.00,109.07 L384.50,109.09 L385.00,108.99 L385.50,109.04 L386.00,109.11 L386.50,109.07 L387.00,108.96 L387.50,108.77 L388.00,108.69 L388.50,108.81 L389.00,109.20 L389.50,109.49 L390.00,109.25 L390.50,108.99 L391.00,109.04 L391.50,109.16 L392.00,109.08 L392.50,108.97 L393.00,109.05 L393.50,109.11 L394.00,108.98 L394.50,108.72 L395.00,108.73 L395.50,108.87 L396.00,108.84 L396.50,108.96 L397.00,109.07 L397.50,109.06 L398.00,109.07 L398.50,109.08 L399.00,109.05 L399.50,108.98 L400.00,109.15 L400.50,109.42 L401.00,109.35 L401.50,109.17 L402.00,109.04 L402.50,108.95 L403.00,108.97 L403.50,109.04 L404.00,109.04 L404.50,108.81 L405.00,108.63 L405.50,108.83 L406.00,109.20 L406.50,109.40 L407.00,109.21 L407.50,108.93 L408.00,108.86 L408.50,108.86 L409.00,108.87 L409.50,108.78 L410.00,108.78 L410.50,108.97 L411.00,109.04 L411.50,109.01 L412.00,109.15 L412.50,109.27 L413.00,109.11 L413.50,109.01 L414.00,109.08"/>
<path class="gy" style="stroke-width:1.4" d="M310.50,117.40 L311.00,117.46 L311.50,117.44 L312.00,117.41 L312.50,117.54 L313.00,117.61 L313.50,117.55 L314.00,117.56 L314.50,117.51 L315.00,117.44 L315.50,117.48 L316.00,117.41 L316.50,117.32 L317.00,117.35 L317.50,117.43 L318.00,117.49 L318.50,117.52 L319.00,117.60 L319.50,117.55 L320.00,117.42 L320.50,117.41 L321.00,117.40 L321.50,117.26 L322.00,117.21 L322.50,117.37 L323.00,117.52 L323.50,117.54 L324.00,117.50 L324.50,117.40 L325.00,117.30 L325.50,117.32 L326.00,117.38 L326.50,117.50 L327.00,117.53 L327.50,117.51 L328.00,117.54 L328.50,117.55 L329.00,117.55 L329.50,117.51 L330.00,117.41 L330.50,117.38 L331.00,117.53 L331.50,117.67 L332.00,117.63 L332.50,117.55 L333.00,117.52 L333.50,117.50 L334.00,117.49 L334.50,117.47 L335.00,117.57 L335.50,117.70 L336.00,117.70 L336.50,117.62 L337.00,117.47 L337.50,117.41 L338.00,117.49 L338.50,117.53 L339.00,117.55 L339.50,117.55 L340.00,117.55 L340.50,117.63 L341.00,117.59 L341.50,117.47 L342.00,117.49 L342.50,117.55 L343.00,117.55 L343.50,117.51 L344.00,117.53 L344.50,117.45 L345.00,117.23 L345.50,117.24 L346.00,117.43 L346.50,117.54 L347.00,117.59 L347.50,117.51 L348.00,117.42 L348.50,117.45 L349.00,117.44 L349.50,117.43 L350.00,117.46 L350.50,117.45 L351.00,117.36 L351.50,117.26 L352.00,117.36 L352.50,117.54 L353.00,117.47 L353.50,117.34 L354.00,117.35 L354.50,117.38 L355.00,117.46 L355.50,117.54 L356.00,117.55 L356.50,117.51 L357.00,117.46 L357.50,117.52 L358.00,117.59 L358.50,117.56 L359.00,117.44 L359.50,117.37 L360.00,117.47 L360.50,117.59 L361.00,117.50 L361.50,117.33 L362.00,117.39 L362.50,117.49 L363.00,117.48 L363.50,117.46 L364.00,117.52 L364.50,117.56 L365.00,117.52 L365.50,117.47 L366.00,117.45 L366.50,117.46 L367.00,117.46 L367.50,117.36 L368.00,117.36 L368.50,117.46 L369.00,117.41 L369.50,117.36 L370.00,117.38 L370.50,117.38 L371.00,117.41 L371.50,117.42 L372.00,117.37 L372.50,117.37 L373.00,117.52 L373.50,117.63 L374.00,117.58 L374.50,117.48 L375.00,117.41 L375.50,117.46 L376.00,117.50 L376.50,117.50 L377.00,117.54 L377.50,117.54 L378.00,117.50 L378.50,117.45 L379.00,117.44 L379.50,117.51 L380.00,117.55 L380.50,117.50 L381.00,117.40 L381.50,117.39 L382.00,117.39 L382.50,117.39 L383.00,117.51 L383.50,117.56 L384.00,117.48 L384.50,117.47 L385.00,117.52 L385.50,117.58 L386.00,117.65 L386.50,117.54 L387.00,117.42 L387.50,117.47 L388.00,117.46 L388.50,117.42 L389.00,117.45 L389.50,117.48 L390.00,117.54 L390.50,117.58 L391.00,117.53 L391.50,117.40 L392.00,117.32 L392.50,117.39 L393.00,117.52 L393.50,117.65 L394.00,117.62 L394.50,117.46 L395.00,117.43 L395.50,117.46 L396.00,117.45 L396.50,117.48 L397.00,117.47 L397.50,117.43 L398.00,117.44 L398.50,117.54 L399.00,117.66 L399.50,117.64 L400.00,117.47 L400.50,117.37 L401.00,117.39 L401.50,117.45 L402.00,117.51 L402.50,117.47 L403.00,117.41 L403.50,117.37 L404.00,117.42 L404.50,117.55 L405.00,117.59 L405.50,117.51 L406.00,117.41 L406.50,117.29 L407.00,117.28 L407.50,117.36 L408.00,117.44 L408.50,117.53 L409.00,117.49 L409.50,117.41 L410.00,117.42 L410.50,117.50 L411.00,117.60 L411.50,117.59 L412.00,117.51 L412.50,117.48 L413.00,117.48 L413.50,117.46 L414.00,117.44"/>
<text class="t" x="317.3" y="173.1" text-anchor="end">0.12</text>
<path transform="translate(314.8,178.9)" d="M-1.25,0 h2.5 v4.6 h2.55 L0,13.2 L-3.8,4.6 h2.55 z" fill="#0a0a0a"/>
<path class="bkc" style="stroke-width:1.7" d="M312.70,196.20 L313.20,195.75 L313.70,195.42 L314.20,195.23 L314.70,195.21 L315.20,195.35 L315.70,195.57 L316.20,195.84 L316.70,196.12 L317.20,196.52 L317.70,196.96 L318.20,197.30 L318.70,197.38 L319.20,196.83 L319.70,195.75 L320.20,193.78 L320.70,190.19 L321.20,186.00 L321.70,180.78 L322.20,174.76 L322.70,170.00 L323.20,166.73 L323.70,163.93 L324.20,161.73 L324.70,160.26 L325.20,159.19 L325.70,158.31 L326.20,157.56 L326.70,156.95 L327.20,156.39 L327.70,155.79 L328.20,155.20 L328.70,154.70 L329.20,154.24 L329.70,153.76 L330.20,153.33 L330.70,153.08 L331.20,152.73 L331.70,152.15 L332.20,151.72"/>
<path class="bkc" style="stroke-width:1.62" d="M332.20,151.72 L332.70,151.55 L333.20,151.46 L333.70,151.35 L334.20,151.17"/>
<path class="bkc" style="stroke-width:1.54" d="M334.20,151.17 L334.70,150.89 L335.20,150.70 L335.70,150.69 L336.20,150.64"/>
<path class="bkc" style="stroke-width:1.46" d="M336.20,150.64 L336.70,150.48 L337.20,150.38 L337.70,150.29 L338.20,150.15"/>
<path class="bkc" style="stroke-width:1.38" d="M338.20,150.15 L338.70,150.04 L339.20,149.98 L339.70,149.94 L340.20,149.94"/>
<path class="bkc" style="stroke-width:1.3" d="M340.20,149.94 L340.70,149.87 L341.20,149.80 L341.70,149.76 L342.20,149.74 L342.70,149.72 L343.20,149.68 L343.70,149.55 L344.20,149.46 L344.70,149.49 L345.20,149.46 L345.70,149.38 L346.20,149.33 L346.70,149.32 L347.20,149.36 L347.70,149.37 L348.20,149.43 L348.70,149.51 L349.20,149.42 L349.70,149.34 L350.20,149.31 L350.70,149.23 L351.20,149.21 L351.70,149.27 L352.20,149.19 L352.70,149.01 L353.20,149.04 L353.70,149.10 L354.20,149.12 L354.70,149.16 L355.20,149.14 L355.70,149.12 L356.20,149.08 L356.70,149.07 L357.20,149.10 L357.70,149.06 L358.20,149.02 L358.70,148.99 L359.20,149.02 L359.70,149.13 L360.20,149.11 L360.70,149.00 L361.20,149.06 L361.70,149.19 L362.20,149.10 L362.70,149.03 L363.20,149.07 L363.70,149.04 L364.20,149.07 L364.70,149.17 L365.20,149.18 L365.70,149.15 L366.20,149.16 L366.70,149.12 L367.20,149.07 L367.70,149.07 L368.20,149.09 L368.70,149.12 L369.20,149.10 L369.70,149.05 L370.20,149.06 L370.70,149.04 L371.20,149.03 L371.70,149.09 L372.20,149.16 L372.70,149.18 L373.20,149.23 L373.70,149.23 L374.20,149.12 L374.70,149.02 L375.20,149.03 L375.70,149.11 L376.20,149.20 L376.70,149.18 L377.20,149.09 L377.70,149.14 L378.20,149.27 L378.70,149.29 L379.20,149.18 L379.70,149.05 L380.20,148.97 L380.70,148.96 L381.20,148.96 L381.70,148.96 L382.20,148.96 L382.70,148.97 L383.20,149.07 L383.70,149.17 L384.20,149.19 L384.70,149.20 L385.20,149.26 L385.70,149.23 L386.20,149.12 L386.70,149.11 L387.20,149.11 L387.70,149.16 L388.20,149.25 L388.70,149.34 L389.20,149.48 L389.70,149.54 L390.20,149.46 L390.70,149.40 L391.20,149.41 L391.70,149.47 L392.20,149.50 L392.70,149.51 L393.20,149.55 L393.70,149.61 L394.20,149.71 L394.70,149.81 L395.20,149.82 L395.70,149.70 L396.20,149.59 L396.70,149.60 L397.20,149.68 L397.70,149.68 L398.20,149.70 L398.70,149.78 L399.20,149.87 L399.70,150.03 L400.20,150.12 L400.70,150.07 L401.20,150.01 L401.70,149.99 L402.20,150.04 L402.70,150.06 L403.20,150.00 L403.70,150.08 L404.20,150.20 L404.70,150.14 L405.20,150.13 L405.70,150.26 L406.20,150.34 L406.70,150.37 L407.20,150.35 L407.70,150.36 L408.20,150.45 L408.70,150.44 L409.20,150.44 L409.70,150.55 L410.20,150.59 L410.70,150.56 L411.20,150.48 L411.70,150.47 L412.20,150.54 L412.70,150.64 L413.20,150.69 L413.70,150.66 L414.20,150.68 L414.70,150.72"/>
<path class="gy1" d="M312.70,199.44 L313.20,199.36 L313.70,199.34 L314.20,199.37 L314.70,199.30 L315.20,199.18 L315.70,199.05 L316.20,199.02 L316.70,199.04 L317.20,199.01 L317.70,198.95 L318.20,198.83 L318.70,198.75 L319.20,198.83 L319.70,198.91 L320.20,198.98 L320.70,199.11 L321.20,199.18 L321.70,199.13 L322.20,199.10 L322.70,199.09 L323.20,199.08 L323.70,199.05 L324.20,198.99 L324.70,198.98 L325.20,199.07 L325.70,199.15 L326.20,199.16 L326.70,199.08 L327.20,198.97 L327.70,198.99 L328.20,199.05 L328.70,199.00 L329.20,198.87 L329.70,198.77 L330.20,198.79 L330.70,198.98 L331.20,199.14 L331.70,199.05 L332.20,198.94 L332.70,198.97 L333.20,199.00 L333.70,198.99 L334.20,198.93 L334.70,198.88 L335.20,198.95 L335.70,199.04 L336.20,199.08 L336.70,199.05 L337.20,199.00 L337.70,199.03 L338.20,199.04 L338.70,199.05 L339.20,199.08 L339.70,199.04 L340.20,199.03 L340.70,199.07 L341.20,199.09 L341.70,199.12 L342.20,199.14 L342.70,199.08 L343.20,199.09 L343.70,199.17 L344.20,199.13 L344.70,199.05 L345.20,198.95 L345.70,198.88 L346.20,198.96 L346.70,199.09 L347.20,199.14 L347.70,199.16 L348.20,199.21 L348.70,199.26 L349.20,199.25 L349.70,199.21 L350.20,199.19 L350.70,199.17 L351.20,199.21 L351.70,199.27 L352.20,199.23 L352.70,199.24 L353.20,199.25 L353.70,199.22 L354.20,199.31 L354.70,199.37 L355.20,199.38 L355.70,199.34 L356.20,199.33 L356.70,199.42 L357.20,199.52 L357.70,199.58 L358.20,199.53 L358.70,199.49 L359.20,199.61 L359.70,199.70 L360.20,199.71 L360.70,199.67 L361.20,199.66 L361.70,199.70 L362.20,199.82 L362.70,199.94 L363.20,199.86 L363.70,199.77 L364.20,199.89 L364.70,200.02 L365.20,199.94 L365.70,199.93 L366.20,200.14 L366.70,200.22 L367.20,200.23 L367.70,200.32 L368.20,200.35 L368.70,200.47 L369.20,200.68 L369.70,200.82 L370.20,200.95 L370.70,201.09 L371.20,201.21 L371.70,201.20 L372.20,201.18 L372.70,201.27 L373.20,201.27 L373.70,201.15 L374.20,200.96 L374.70,200.67 L375.20,200.20 L375.70,199.66 L376.20,198.99 L376.70,197.97 L377.20,196.59 L377.70,194.86 L378.20,192.18 L378.70,188.83 L379.20,185.36 L379.70,182.20 L380.20,179.25 L380.70,176.38 L381.20,173.80 L381.70,171.61 L382.20,169.95 L382.70,168.55 L383.20,167.39 L383.70,166.37 L384.20,165.45 L384.70,164.74 L385.20,164.17 L385.70,163.54 L386.20,162.92 L386.70,162.51 L387.20,162.18 L387.70,161.75 L388.20,161.27 L388.70,160.83 L389.20,160.51 L389.70,160.32 L390.20,160.09 L390.70,159.78 L391.20,159.57 L391.70,159.38 L392.20,159.09 L392.70,158.92 L393.20,158.88 L393.70,158.79 L394.20,158.66 L394.70,158.57 L395.20,158.47 L395.70,158.28 L396.20,158.14 L396.70,158.14 L397.20,158.08 L397.70,157.87 L398.20,157.69 L398.70,157.56 L399.20,157.42 L399.70,157.31 L400.20,157.23 L400.70,157.27 L401.20,157.34 L401.70,157.31 L402.20,157.27 L402.70,157.17 L403.20,157.06 L403.70,157.02 L404.20,157.00 L404.70,156.98 L405.20,157.01 L405.70,157.00 L406.20,156.85 L406.70,156.73 L407.20,156.77 L407.70,156.82 L408.20,156.75 L408.70,156.69 L409.20,156.70 L409.70,156.59 L410.20,156.45 L410.70,156.53 L411.20,156.58 L411.70,156.48 L412.20,156.40 L412.70,156.41 L413.20,156.37 L413.70,156.30 L414.20,156.33 L414.70,156.34"/>
<text class="t" x="317.8" y="261.9" text-anchor="end">0.5</text>
<path transform="translate(315,266.9)" d="M-1.25,0 h2.5 v4.6 h2.55 L0,13.2 L-3.8,4.6 h2.55 z" fill="#0a0a0a"/>
<path class="bkc" style="stroke-width:1.8" d="M314.50,286.50 L315.00,285.83 L315.50,285.43 L316.00,285.30 L316.50,285.54 L317.00,286.04 L317.50,286.50 L318.00,286.86 L318.50,287.21 L319.00,287.45 L319.50,287.29 L320.00,285.37 L320.50,282.02 L321.00,274.53 L321.50,265.73 L322.00,259.74 L322.50,255.66 L323.00,252.10 L323.50,249.25 L324.00,247.29 L324.50,246.22 L325.00,245.37 L325.50,244.65 L326.00,244.04 L326.50,243.56 L327.00,243.21 L327.50,242.91 L328.00,242.65 L328.50,242.50 L329.00,242.38 L329.50,242.16 L330.00,241.97"/>
<path class="bkc" style="stroke-width:1.70" d="M330.00,241.97 L330.50,241.79 L331.00,241.63 L331.50,241.61 L332.00,241.65"/>
<path class="bkc" style="stroke-width:1.60" d="M332.00,241.65 L332.50,241.57 L333.00,241.41 L333.50,241.32 L334.00,241.25"/>
<path class="bkc" style="stroke-width:1.50" d="M334.00,241.25 L334.50,241.22 L335.00,241.36 L335.50,241.49 L336.00,241.43"/>
<path class="bkc" style="stroke-width:1.40" d="M336.00,241.43 L336.50,241.34 L337.00,241.37 L337.50,241.35 L338.00,241.25"/>
<path class="bkc" style="stroke-width:1.3" d="M338.00,241.25 L338.50,241.19 L339.00,241.19 L339.50,241.25 L340.00,241.27 L340.50,241.13 L341.00,241.08 L341.50,241.17 L342.00,241.11 L342.50,240.98 L343.00,240.98 L343.50,241.02 L344.00,241.06 L344.50,241.15 L345.00,241.18 L345.50,241.14 L346.00,241.09 L346.50,241.10 L347.00,241.19 L347.50,241.22 L348.00,241.11 L348.50,241.12 L349.00,241.25 L349.50,241.21 L350.00,241.03 L350.50,240.96 L351.00,241.08 L351.50,241.16 L352.00,241.11 L352.50,241.06 L353.00,241.09 L353.50,241.18 L354.00,241.18 L354.50,241.07 L355.00,241.05 L355.50,241.07 L356.00,241.03 L356.50,241.04 L357.00,241.13 L357.50,241.17 L358.00,241.21 L358.50,241.22 L359.00,241.15 L359.50,241.12 L360.00,241.10 L360.50,241.10 L361.00,241.13 L361.50,241.06 L362.00,241.06 L362.50,241.17 L363.00,241.13 L363.50,240.97 L364.00,240.93 L364.50,241.06 L365.00,241.19 L365.50,241.23 L366.00,241.21 L366.50,241.15 L367.00,241.09 L367.50,241.04 L368.00,241.10 L368.50,241.16 L369.00,241.10 L369.50,241.09 L370.00,241.12 L370.50,241.18 L371.00,241.18 L371.50,241.14 L372.00,241.13 L372.50,241.06 L373.00,241.01 L373.50,241.04 L374.00,241.07 L374.50,241.10 L375.00,241.13 L375.50,241.21 L376.00,241.27 L376.50,241.21 L377.00,241.13 L377.50,241.15 L378.00,241.16 L378.50,241.09 L379.00,241.02 L379.50,241.04 L380.00,241.13 L380.50,241.20 L381.00,241.18 L381.50,241.15 L382.00,241.14 L382.50,241.12 L383.00,241.17 L383.50,241.26 L384.00,241.29 L384.50,241.24 L385.00,241.15 L385.50,241.10 L386.00,241.10 L386.50,241.14 L387.00,241.09 L387.50,241.02 L388.00,241.07 L388.50,241.06 L389.00,240.95 L389.50,241.00 L390.00,241.15 L390.50,241.17 L391.00,241.08 L391.50,241.08 L392.00,241.22 L392.50,241.28 L393.00,241.18 L393.50,241.11 L394.00,241.18 L394.50,241.22 L395.00,241.15 L395.50,241.10 L396.00,241.13 L396.50,241.16 L397.00,241.14 L397.50,241.07 L398.00,240.99 L398.50,241.03 L399.00,241.21 L399.50,241.31 L400.00,241.30 L400.50,241.26 L401.00,241.16 L401.50,241.15 L402.00,241.17 L402.50,241.21 L403.00,241.22 L403.50,241.11 L404.00,241.07 L404.50,241.10 L405.00,241.14 L405.50,241.13 L406.00,241.10 L406.50,241.21 L407.00,241.28 L407.50,241.27 L408.00,241.35 L408.50,241.38 L409.00,241.29 L409.50,241.24 L410.00,241.25 L410.50,241.21 L411.00,241.15 L411.50,241.14 L412.00,241.19 L412.50,241.21 L413.00,241.26 L413.50,241.26 L414.00,241.21 L414.50,241.21 L415.00,241.21 L415.50,241.23 L416.00,241.27 L416.50,241.25 L417.00,241.16 L417.50,241.09"/>
<path class="gy1" style="stroke-width:1.0" d="M316.20,287.20 L316.70,287.16 L317.20,287.22 L317.70,287.37 L318.20,287.39 L318.70,287.29 L319.20,287.27 L319.70,287.34 L320.20,287.39 L320.70,287.39 L321.20,287.42 L321.70,287.55 L322.20,287.59 L322.70,287.52 L323.20,287.53 L323.70,287.63 L324.20,287.70 L324.70,287.71 L325.20,287.81 L325.70,287.89 L326.20,287.95 L326.70,288.01 L327.20,288.00 L327.70,288.04 L328.20,288.18 L328.70,288.31 L329.20,288.36 L329.70,288.42 L330.20,288.53 L330.70,288.59 L331.20,288.64 L331.70,288.75 L332.20,288.91 L332.70,289.01 L333.20,288.96 L333.70,288.97 L334.20,289.00 L334.70,289.03 L335.20,289.09 L335.70,289.08 L336.20,289.02 L336.70,288.92 L337.20,288.86 L337.70,288.85 L338.20,288.76 L338.70,288.10 L339.20,286.88 L339.70,285.22 L340.20,282.58 L340.70,279.35 L341.20,275.07 L341.70,270.38 L342.20,266.09 L342.70,263.01 L343.20,260.90 L343.70,259.05 L344.20,257.38 L344.70,255.90 L345.20,254.65 L345.70,253.52 L346.20,252.63 L346.70,251.93 L347.20,251.26 L347.70,250.62 L348.20,250.04 L348.70,249.50 L349.20,248.96 L349.70,248.48 L350.20,248.17 L350.70,247.92 L351.20,247.60 L351.70,247.32 L352.20,247.16 L352.70,247.04 L353.20,246.86 L353.70,246.65 L354.20,246.51 L354.70,246.37 L355.20,246.24 L355.70,246.06 L356.20,245.86 L356.70,245.73 L357.20,245.62 L357.70,245.53 L358.20,245.43 L358.70,245.34 L359.20,245.27 L359.70,245.19 L360.20,245.13 L360.70,245.04 L361.20,244.98 L361.70,244.97 L362.20,244.95 L362.70,244.90 L363.20,244.80 L363.70,244.71 L364.20,244.66 L364.70,244.58 L365.20,244.46 L365.70,244.47 L366.20,244.53 L366.70,244.41 L367.20,244.27 L367.70,244.31 L368.20,244.32 L368.70,244.31 L369.20,244.38 L369.70,244.37 L370.20,244.28 L370.70,244.21 L371.20,244.20 L371.70,244.20 L372.20,244.13 L372.70,244.06 L373.20,244.05 L373.70,244.04 L374.20,243.99 L374.70,243.94 L375.20,243.94 L375.70,243.93 L376.20,243.91 L376.70,243.85 L377.20,243.81 L377.70,243.85 L378.20,243.82 L378.70,243.73 L379.20,243.70 L379.70,243.68 L380.20,243.69 L380.70,243.74 L381.20,243.76 L381.70,243.75 L382.20,243.65 L382.70,243.55 L383.20,243.50 L383.70,243.49 L384.20,243.58 L384.70,243.59 L385.20,243.54 L385.70,243.49 L386.20,243.43 L386.70,243.41 L387.20,243.39 L387.70,243.39 L388.20,243.38 L388.70,243.38 L389.20,243.41 L389.70,243.38 L390.20,243.35 L390.70,243.30 L391.20,243.27 L391.70,243.31 L392.20,243.32 L392.70,243.29 L393.20,243.27 L393.70,243.26 L394.20,243.27 L394.70,243.25 L395.20,243.27 L395.70,243.27 L396.20,243.18 L396.70,243.15 L397.20,243.15 L397.70,243.12 L398.20,243.11 L398.70,243.15 L399.20,243.18 L399.70,243.13 L400.20,243.10 L400.70,243.17 L401.20,243.20 L401.70,243.14 L402.20,243.07 L402.70,243.11 L403.20,243.23 L403.70,243.25 L404.20,243.15 L404.70,243.10 L405.20,243.13 L405.70,243.16 L406.20,243.15 L406.70,243.10 L407.20,243.07 L407.70,243.08 L408.20,243.07 L408.70,243.06 L409.20,243.06 L409.70,243.02 L410.20,243.00 L410.70,243.04 L411.20,243.00 L411.70,242.93 L412.20,242.97 L412.70,243.02 L413.20,243.07 L413.70,243.10 L414.20,243.03 L414.70,242.95 L415.20,242.89 L415.70,242.88 L416.20,242.94 L416.70,242.98 L417.20,243.00 L417.70,243.03"/>
<text class="t" x="317.2" y="346.5" text-anchor="end">5.0</text>
<path transform="translate(315,352.6)" d="M-1.25,0 h2.5 v4.6 h2.55 L0,13.2 L-3.8,4.6 h2.55 z" fill="#0a0a0a"/>
<path class="bkc" style="stroke-width:1.8" d="M314.80,369.50 L315.30,368.78 L315.80,368.39 L316.30,368.31 L316.80,368.68 L317.30,369.28 L317.80,369.86 L318.30,370.59 L318.80,371.21 L319.30,371.35 L319.80,369.95 L320.30,367.40 L320.80,362.13 L321.30,354.27 L321.80,347.50 L322.30,343.54 L322.80,340.11 L323.30,337.24 L323.80,335.06 L324.30,333.68 L324.80,332.69 L325.30,331.85 L325.80,331.13 L326.30,330.50 L326.80,329.98 L327.30,329.59 L327.80,329.35 L328.30,329.15 L328.80,328.93 L329.30,328.68 L329.80,328.38 L330.30,328.20"/>
<path class="bkc" style="stroke-width:1.70" d="M330.30,328.20 L330.80,328.14 L331.30,328.05 L331.80,327.91 L332.30,327.66"/>
<path class="bkc" style="stroke-width:1.60" d="M332.30,327.66 L332.80,327.50 L333.30,327.49 L333.80,327.51 L334.30,327.47"/>
<path class="bkc" style="stroke-width:1.50" d="M334.30,327.47 L334.80,327.38 L335.30,327.30 L335.80,327.19 L336.30,327.11"/>
<path class="bkc" style="stroke-width:1.40" d="M336.30,327.11 L336.80,327.07 L337.30,327.04 L337.80,327.04 L338.30,327.16"/>
<path class="bkc" style="stroke-width:1.3" d="M338.30,327.16 L338.80,327.19 L339.30,326.99 L339.80,326.90 L340.30,326.94 L340.80,326.94 L341.30,326.90 L341.80,326.82 L342.30,326.78 L342.80,326.77 L343.30,326.78 L343.80,326.78 L344.30,326.72 L344.80,326.62 L345.30,326.53 L345.80,326.59 L346.30,326.70 L346.80,326.73 L347.30,326.69 L347.80,326.66 L348.30,326.73 L348.80,326.71 L349.30,326.60 L349.80,326.71 L350.30,326.81 L350.80,326.74 L351.30,326.74 L351.80,326.76 L352.30,326.74 L352.80,326.68 L353.30,326.62 L353.80,326.63 L354.30,326.64 L354.80,326.62 L355.30,326.66 L355.80,326.72 L356.30,326.66 L356.80,326.57 L357.30,326.62 L357.80,326.63 L358.30,326.59 L358.80,326.68 L359.30,326.80 L359.80,326.79 L360.30,326.68 L360.80,326.64 L361.30,326.69 L361.80,326.76 L362.30,326.79 L362.80,326.73 L363.30,326.63 L363.80,326.59 L364.30,326.65 L364.80,326.73 L365.30,326.78 L365.80,326.79 L366.30,326.83 L366.80,326.80 L367.30,326.65 L367.80,326.58 L368.30,326.61 L368.80,326.64 L369.30,326.66 L369.80,326.74 L370.30,326.80 L370.80,326.81 L371.30,326.74 L371.80,326.69 L372.30,326.68 L372.80,326.66 L373.30,326.66 L373.80,326.69 L374.30,326.66 L374.80,326.59 L375.30,326.70 L375.80,326.78 L376.30,326.74 L376.80,326.73 L377.30,326.77 L377.80,326.84 L378.30,326.85 L378.80,326.81 L379.30,326.78 L379.80,326.72 L380.30,326.72 L380.80,326.70 L381.30,326.64 L381.80,326.66 L382.30,326.69 L382.80,326.70 L383.30,326.61 L383.80,326.52 L384.30,326.56 L384.80,326.67 L385.30,326.73 L385.80,326.71 L386.30,326.69 L386.80,326.71 L387.30,326.68 L387.80,326.70 L388.30,326.75 L388.80,326.66 L389.30,326.60 L389.80,326.69 L390.30,326.71 L390.80,326.72 L391.30,326.75 L391.80,326.72 L392.30,326.73 L392.80,326.81 L393.30,326.81 L393.80,326.67 L394.30,326.67 L394.80,326.76 L395.30,326.77 L395.80,326.69 L396.30,326.69 L396.80,326.75 L397.30,326.73 L397.80,326.70 L398.30,326.72 L398.80,326.68 L399.30,326.61 L399.80,326.62 L400.30,326.68 L400.80,326.74 L401.30,326.79 L401.80,326.79 L402.30,326.75 L402.80,326.75 L403.30,326.76 L403.80,326.70 L404.30,326.63 L404.80,326.57 L405.30,326.61 L405.80,326.72 L406.30,326.66 L406.80,326.58 L407.30,326.63 L407.80,326.65 L408.30,326.63 L408.80,326.68 L409.30,326.69 L409.80,326.72 L410.30,326.74 L410.80,326.72 L411.30,326.74 L411.80,326.71 L412.30,326.72 L412.80,326.79 L413.30,326.75 L413.80,326.68 L414.30,326.69 L414.80,326.66 L415.30,326.63 L415.80,326.70 L416.30,326.68 L416.80,326.59 L417.30,326.62 L417.80,326.72"/>
<path class="gy1" style="stroke-width:1.0" d="M316.20,371.59 L316.70,371.74 L317.20,371.85 L317.70,371.96 L318.20,372.13 L318.70,372.39 L319.20,372.70 L319.70,373.13 L320.20,373.63 L320.70,374.15 L321.20,374.63 L321.70,374.83 L322.20,374.77 L322.70,374.56 L323.20,374.18 L323.70,373.78 L324.20,373.22 L324.70,370.50 L325.20,366.06 L325.70,360.19 L326.20,355.57 L326.70,351.34 L327.20,347.51 L327.70,344.37 L328.20,342.10 L328.70,340.37 L329.20,338.85 L329.70,337.65 L330.20,336.62 L330.70,335.70 L331.20,335.00 L331.70,334.47 L332.20,333.98 L332.70,333.50 L333.20,333.06 L333.70,332.70 L334.20,332.37 L334.70,332.07 L335.20,331.82 L335.70,331.58 L336.20,331.39 L336.70,331.31 L337.20,331.27 L337.70,331.12 L338.20,330.87 L338.70,330.71 L339.20,330.63 L339.70,330.54 L340.20,330.44 L340.70,330.37 L341.20,330.30 L341.70,330.18 L342.20,330.13 L342.70,330.13 L343.20,330.01 L343.70,329.91 L344.20,329.90 L344.70,329.83 L345.20,329.76 L345.70,329.71 L346.20,329.66 L346.70,329.64 L347.20,329.63 L347.70,329.56 L348.20,329.50 L348.70,329.50 L349.20,329.46 L349.70,329.42 L350.20,329.44 L350.70,329.44 L351.20,329.45 L351.70,329.46 L352.20,329.41 L352.70,329.35 L353.20,329.29 L353.70,329.21 L354.20,329.17 L354.70,329.19 L355.20,329.15 L355.70,329.10 L356.20,329.18 L356.70,329.24 L357.20,329.21 L357.70,329.18 L358.20,329.10 L358.70,329.05 L359.20,329.05 L359.70,329.03 L360.20,329.02 L360.70,329.06 L361.20,329.03 L361.70,328.99 L362.20,328.99 L362.70,328.99 L363.20,329.03 L363.70,329.03 L364.20,328.94 L364.70,328.91 L365.20,329.02 L365.70,329.04 L366.20,328.93 L366.70,328.84 L367.20,328.85 L367.70,328.89 L368.20,328.90 L368.70,328.91 L369.20,328.91 L369.70,328.87 L370.20,328.83 L370.70,328.86 L371.20,328.94 L371.70,328.98 L372.20,328.94 L372.70,328.90 L373.20,328.92 L373.70,328.93 L374.20,328.92 L374.70,328.91 L375.20,328.87 L375.70,328.83 L376.20,328.79 L376.70,328.81 L377.20,328.82 L377.70,328.82 L378.20,328.87 L378.70,328.90 L379.20,328.85 L379.70,328.79 L380.20,328.81 L380.70,328.88 L381.20,328.93 L381.70,328.89 L382.20,328.83 L382.70,328.81 L383.20,328.85 L383.70,328.87 L384.20,328.84 L384.70,328.82 L385.20,328.83 L385.70,328.88 L386.20,328.91 L386.70,328.89 L387.20,328.87 L387.70,328.83 L388.20,328.79 L388.70,328.78 L389.20,328.80 L389.70,328.83 L390.20,328.85 L390.70,328.88 L391.20,328.91 L391.70,328.92 L392.20,328.88 L392.70,328.83 L393.20,328.79 L393.70,328.79 L394.20,328.84 L394.70,328.82 L395.20,328.83 L395.70,328.86 L396.20,328.80 L396.70,328.77 L397.20,328.79 L397.70,328.79 L398.20,328.81 L398.70,328.84 L399.20,328.84 L399.70,328.83 L400.20,328.83 L400.70,328.82 L401.20,328.85 L401.70,328.83 L402.20,328.76 L402.70,328.77 L403.20,328.77 L403.70,328.67 L404.20,328.65 L404.70,328.74 L405.20,328.80 L405.70,328.82 L406.20,328.82 L406.70,328.80 L407.20,328.79 L407.70,328.78 L408.20,328.76 L408.70,328.78 L409.20,328.82 L409.70,328.82 L410.20,328.82 L410.70,328.80 L411.20,328.77 L411.70,328.77 L412.20,328.80 L412.70,328.79 L413.20,328.77 L413.70,328.75 L414.20,328.79 L414.70,328.81 L415.20,328.75 L415.70,328.72 L416.20,328.76 L416.70,328.79 L417.20,328.77 L417.70,328.76"/>
<path d="M427.7,193 H440.2" stroke="#111" stroke-width="1.9" fill="none"/>
<path d="M427.7,206.3 H440.2" stroke="#999" stroke-width="1.1" fill="none"/>
<text class="t" x="445" y="195.6">control</text>
<text class="t" x="446" y="209" textLength="72" lengthAdjust="spacingAndGlyphs">Fab 20 µg/mL</text>
</svg>
</body></html>
